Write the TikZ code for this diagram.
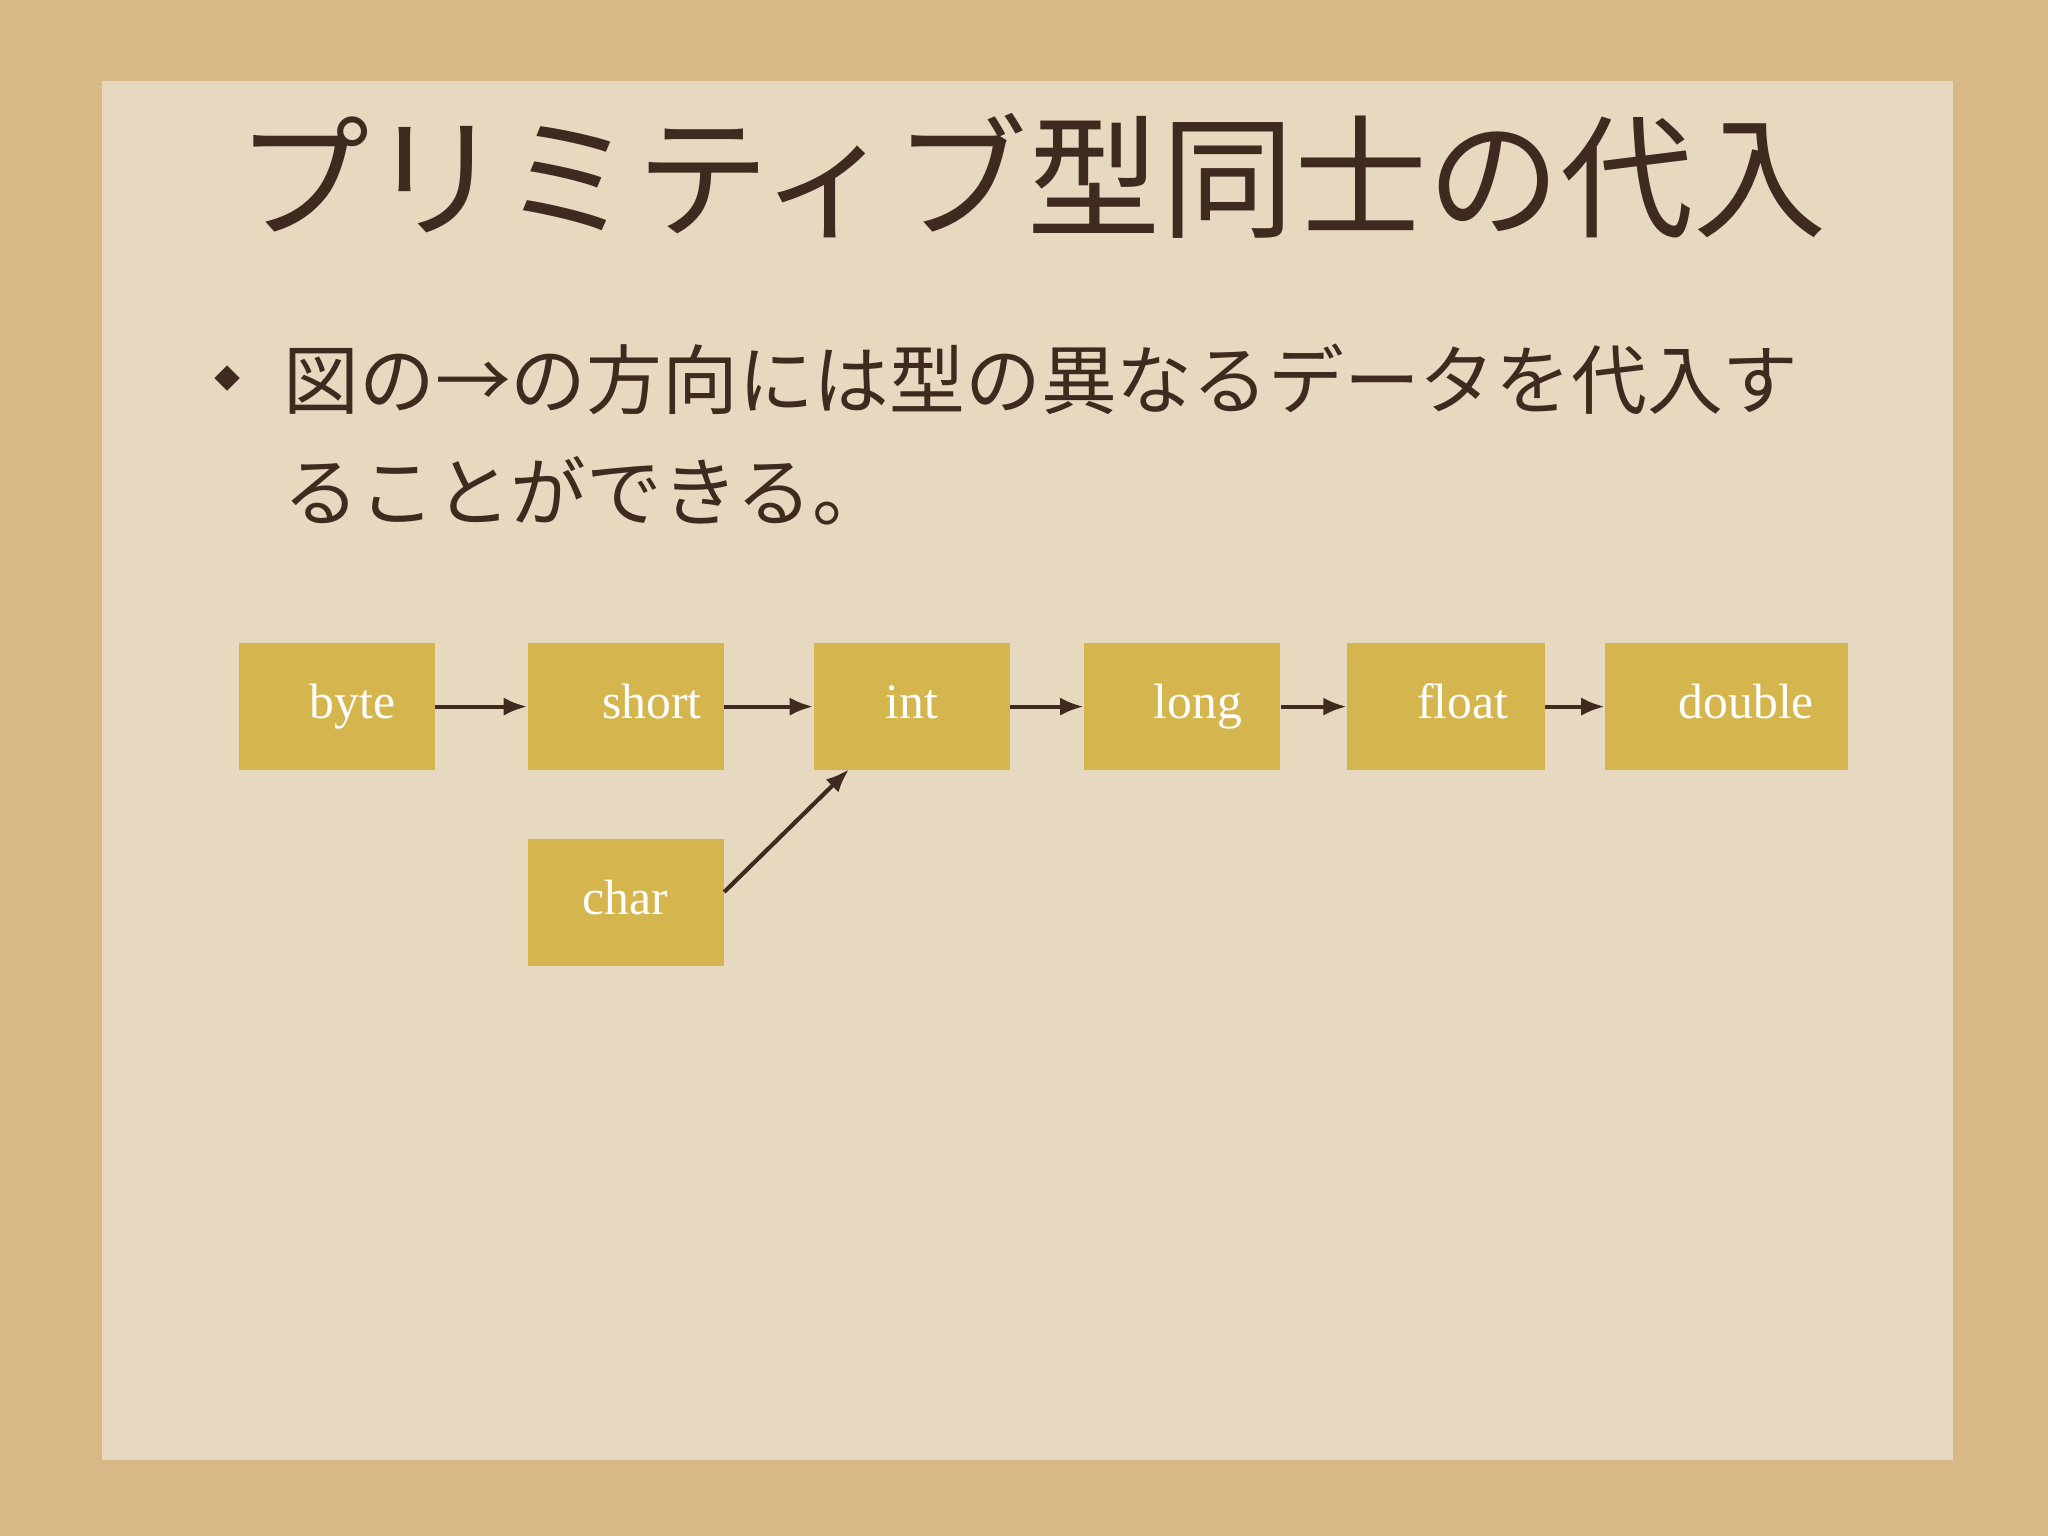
\documentclass[tikz,border=0pt]{standalone}
\usepackage{fontspec}
\setmainfont{Liberation Serif}
\newfontfamily\jp{Noto Sans CJK JP}
\usetikzlibrary{arrows.meta}
\definecolor{bgout}{HTML}{D8B887}
\definecolor{paper}{HTML}{E6D9C0}
\definecolor{ink}{HTML}{3E2A1E}
\definecolor{boxc}{HTML}{D4B54E}
\tikzset{
 tbox/.style={fill=boxc,minimum width=75pt,minimum height=48.5pt,inner sep=0pt,font=\fontsize{19}{22}\selectfont,text=white,text height=13pt,text depth=4pt},
 arr/.style={-{Latex[length=9pt,width=7pt]},draw=ink,line width=1.6pt}
}
\begin{document}
\begin{tikzpicture}[x=0.5pt,y=-0.5pt]
\useasboundingbox (0,0) rectangle (1568,1176);
\fill[bgout] (0,0) rectangle (1568,1176);
\fill[paper] (78,62) rectangle (1495,1118);
\node[font=\jp\fontsize{51}{54}\selectfont,text=ink,anchor=center] (title) at (790,135) {プリミティブ型同士の代入};
\node[font=\jp\fontsize{10}{10}\selectfont,text=ink] (bul) at (174,290) {◆};
\node[font=\jp\fontsize{29}{43}\selectfont,text=ink,anchor=north west,align=left] (txt) at (210,256) {図の→の方向には型の異なるデータを代入す\\ることができる。};
\foreach \n/\x/\w/\tx in {byte/258/150/270,short/479/150/499,int/698/150/698,long/905/150/917,float/1107/151/1120,double/1322/186/1337}
  {\node[fill=boxc,minimum width=\w*0.5pt,minimum height=48.5pt,inner sep=0pt] (\n) at (\x,541) {};
   \node[tbox,fill=none,minimum width=0pt] (\n t) at (\tx,541) {\n};}
\node[tbox] (char) at (479,691) {};
\node[tbox,fill=none,minimum width=0pt] (chart) at (479,691) {char};
\draw[arr] (byte) -- (short);
\draw[arr] (short) -- (int);
\draw[arr] (int) -- (long);
\draw[arr] (long) -- (float);
\draw[arr] (float) -- (double);
\path (char.east) ++(0,-8) coordinate (c0);
\coordinate (c1) at (650,589);
\draw[arr] (c0) -- (c1);
\end{tikzpicture}
\end{document}
